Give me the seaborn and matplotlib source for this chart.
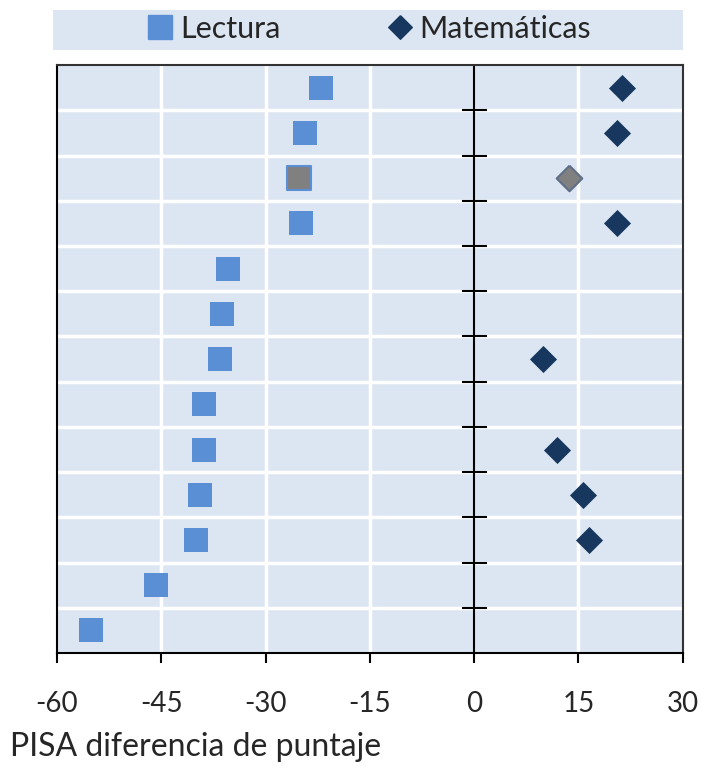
import pandas as pd
import matplotlib.pyplot as plt
import numpy as np
import seaborn as sns
from matplotlib.lines import Line2D
from matplotlib.patches import Rectangle

# values (PISA score difference), top row first
lectura = [-22.0, -24.4, -25.2, -24.9, -35.4, -36.2, -36.5, -38.8, -38.8, -39.5, -40.0, -45.7, -55.1]
matematicas = [21.3, 20.6, 13.7, 20.6, np.nan, np.nan, 9.9, np.nan, 11.9, 15.7, 16.5, np.nan, np.nan]
destacado = [False, False, True, False, False, False, False, False, False, False, False, False, False]
xticks = [-60, -45, -30, -15, 0, 15, 30]

bg = "#dce6f2"
c_lec = "#5a8fd6"
c_mat = "#17375e"
c_grey = "#808080"

sns.set_theme(style="white")
plt.rcParams["font.family"] = ["Lato", "DejaVu Sans"]

df = pd.DataFrame({
    "fila": np.arange(len(lectura)),
    "Lectura": lectura,
    "Matemáticas": matematicas,
    "destacado": destacado,
})

fig = plt.figure(figsize=(7.01, 7.66), dpi=100)
ax = fig.add_axes([0.0813, 0.1475, 0.8927, 0.7675])
ax.set_facecolor(bg)

n = len(df)
bounds = np.arange(n - 1) + 0.5
for b in bounds:
    ax.axhline(b, color="white", lw=2.5, zorder=0)
for t in [-45, -30, -15, 15]:
    ax.axvline(t, color="white", lw=2.5, zorder=0)
ax.axvline(0, color="black", lw=1.5, zorder=1)
ax.hlines(bounds, -1.8, 1.8, color="black", lw=1.5, zorder=1)

sq = df[~df["destacado"]]
hl = df[df["destacado"]]
diamond = [(0, 1), (1, 0), (0, -1), (-1, 0), (0, 1)]
sns.scatterplot(data=sq, x="Lectura", y="fila", marker="s", s=320, color=c_lec,
                edgecolor=c_lec, linewidth=0, ax=ax, zorder=3)
sns.scatterplot(data=hl, x="Lectura", y="fila", marker="s", s=320, color=c_grey,
                edgecolor=c_lec, linewidth=1.5, ax=ax, zorder=3)
sns.scatterplot(data=sq.dropna(subset=["Matemáticas"]), x="Matemáticas", y="fila",
                marker=diamond, s=380, color=c_mat, edgecolor=c_mat, linewidth=0,
                ax=ax, zorder=3)
sns.scatterplot(data=hl, x="Matemáticas", y="fila", marker=diamond, s=340,
                color=c_grey, edgecolor="#5f6f88", linewidth=1.5, ax=ax, zorder=3)

ax.set_xlim(-60, 30)
ax.set_ylim(n - 0.5, -0.5)
ax.set_xticks(xticks)
ax.set_xticklabels([str(t) for t in xticks], fontsize=20)
ax.set_yticks([])
ax.tick_params(axis="x", direction="out", length=7, width=1.5, color="black", pad=20,
               bottom=True)
ax.set_xlabel("")
ax.set_ylabel("")
for side in ["left", "bottom", "top", "right"]:
    ax.spines[side].set_color("black")
    ax.spines[side].set_linewidth(1.5)
ax.spines["top"].set_color("#333333")
ax.spines["right"].set_color("#333333")

fig.text(0.014, 0.025, "PISA diferencia de puntaje", fontsize=23, ha="left", va="center")

# legend strip above the plot
fig.patches.append(Rectangle((0.0756, 0.935), 0.899, 0.052, transform=fig.transFigure,
                             facecolor=bg, edgecolor="none", zorder=0))
handles = [
    Line2D([], [], marker="s", ls="none", color=c_lec, markersize=17),
    Line2D([], [], marker=diamond, ls="none", color=c_mat, markersize=17),
]
fig.legend(handles, ["Lectura", "Matemáticas"], loc="center", ncol=2,
           bbox_to_anchor=(0.525, 0.962), frameon=False, fontsize=22,
           handletextpad=0.15, columnspacing=3.4, handlelength=1.0)

plt.savefig("out.png", dpi=100)
